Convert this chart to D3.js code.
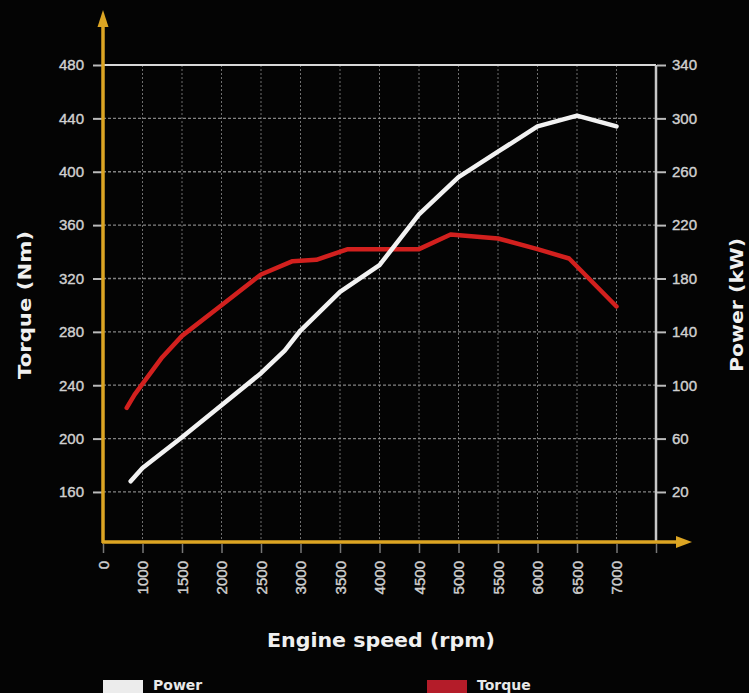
<!DOCTYPE html>
<html><head><meta charset="utf-8">
<script src="https://cdn.jsdelivr.net/npm/d3@7/dist/d3.min.js"></script>
<style>html,body{margin:0;padding:0;background:#040404;overflow:hidden}svg{display:block}</style>
</head><body>
<svg id="c" width="749" height="693"></svg>
<script>
const xTickValues = [500,1000,1500,2000,2500,3000,3500,4000,4500,5000,5500,6000,6500,7000];
const xTickLabels = ["0","1000","1500","2000","2500","3000","3500","4000","4500","5000","5500","6000","6500","7000"];
const torqueTicks = [160,200,240,280,320,360,400,440,480];
const powerTicks = [20,60,100,140,180,220,260,300,340];
const torqueRpm = [800,900,1000,1250,1500,2000,2500,2900,3200,3600,4000,4500,4900,5500,6000,6400,7000];
const torqueNm  = [223,233,241,261,277,300,323,333,334,342,342,342,353,350,342,335,299];
const powerRpm = [850,1000,1500,2000,2500,2800,3000,3500,4000,4500,5000,5500,6000,6500,7000];
const powerKw  = [28,38,61,85,109,126,141,170,190,228,256,275,294,302,294];

const svg = d3.select("#c");
const L = 103, R = 656, T = 65, B = 542;
const x = d3.scaleLinear().domain([500,7500]).range([L,R]);
const yT = d3.scaleLinear().domain([122.5,480]).range([B,T]);
const yP = d3.scaleLinear().domain([-17.5,340]).range([B,T]);
const tickColor = "#d0d0d0";
const font = "'Liberation Sans', Arial, sans-serif";
const tfont = "'DejaVu Sans', 'Liberation Sans', sans-serif";

// grid
const g = svg.append("g");
g.selectAll(".vg").data(xTickValues.slice(1)).join("line")
  .attr("x1",d=>x(d)).attr("x2",d=>x(d)).attr("y1",T).attr("y2",B)
  .attr("stroke","#8a8a8a").attr("stroke-width",1).attr("stroke-dasharray","2,2").attr("opacity",0.8);
g.selectAll(".hg").data(torqueTicks.slice(0,-1)).join("line")
  .attr("x1",L).attr("x2",R).attr("y1",d=>yT(d)).attr("y2",d=>yT(d))
  .attr("stroke","#9a9a9a").attr("stroke-width",1.3).attr("stroke-dasharray","3,2").attr("opacity",0.85);

// frame: top and right
svg.append("line").attr("x1",L).attr("x2",R).attr("y1",yT(480)).attr("y2",yT(480))
  .attr("stroke","#d8d8d8").attr("stroke-width",2);
svg.append("line").attr("x1",R).attr("x2",R).attr("y1",T).attr("y2",B)
  .attr("stroke","#c8c8c8").attr("stroke-width",2.5);

function styleText(sel){
  sel.attr("fill",tickColor).style("font-family",font).style("font-size","15px").style("font-weight","normal")
     .attr("stroke",tickColor).attr("stroke-width",0.4);
}
// left axis ticks & labels
const la = d3.axisLeft(yT).tickValues(torqueTicks).tickSize(9).tickPadding(9).tickFormat(d3.format("d"));
const lg = svg.append("g").attr("transform",`translate(${L-1},0)`).call(la);
lg.select(".domain").remove();
lg.selectAll("line").attr("stroke","#bbb").attr("stroke-width",2);
styleText(lg.selectAll("text"));

// right axis
const ra = d3.axisRight(yP).tickValues(powerTicks).tickSize(9).tickPadding(6).tickFormat(d3.format("d"));
const rg = svg.append("g").attr("transform",`translate(${R+1},0)`).call(ra);
rg.select(".domain").remove();
rg.selectAll("line").attr("stroke","#bbb").attr("stroke-width",2);
styleText(rg.selectAll("text"));

// bottom ticks
const ba = d3.axisBottom(x).tickValues(xTickValues.concat([7500])).tickSize(9).tickFormat(d=>{const i=xTickValues.indexOf(d);return i<0?"":xTickLabels[i];});
const bg = svg.append("g").attr("transform",`translate(0,${B+2})`).call(ba);
bg.select(".domain").remove();
bg.selectAll("line").attr("stroke","#777").attr("stroke-width",1.5);
styleText(bg.selectAll("text"));
bg.selectAll("text").attr("transform","rotate(-90)").attr("text-anchor","end").attr("x",-17).attr("y",0).attr("dy","0.35em");

// yellow axes with arrows
const yel = "#dca523";
svg.append("line").attr("x1",L).attr("x2",L).attr("y1",B+1).attr("y2",22).attr("stroke",yel).attr("stroke-width",3.5);
svg.append("path").attr("d",`M${L},10 L${L-5.5},27 L${L+5.5},27 Z`).attr("fill",yel);
svg.append("line").attr("x1",L-1).attr("x2",682).attr("y1",B).attr("y2",B).attr("stroke",yel).attr("stroke-width",3.5);
svg.append("path").attr("d",`M692,${B} L676,${B-6} L676,${B+6} Z`).attr("fill",yel);

// lines
const lineT = d3.line().x((d,i)=>x(torqueRpm[i])).y(d=>yT(d)).curve(d3.curveLinear);
const lineP = d3.line().x((d,i)=>x(powerRpm[i])).y(d=>yP(d)).curve(d3.curveLinear);
svg.append("path").attr("d",lineT(torqueNm)).attr("fill","none").attr("stroke","#d2201e").attr("stroke-width",4.5).attr("stroke-linejoin","round").attr("stroke-linecap","round");
svg.append("path").attr("d",lineP(powerKw)).attr("fill","none").attr("stroke","#f2f2f2").attr("stroke-width",4.5).attr("stroke-linejoin","round").attr("stroke-linecap","round");

// titles
svg.append("text").attr("transform","translate(31,305) rotate(-90)").attr("text-anchor","middle")
  .attr("textLength",148).attr("lengthAdjust","spacingAndGlyphs")
  .attr("fill","#f0f0f0").style("font-family",tfont).style("font-size","18px").style("font-weight","bold").text("Torque (Nm)");
svg.append("text").attr("transform","translate(743,305) rotate(-90)").attr("text-anchor","middle")
  .attr("textLength",134).attr("lengthAdjust","spacingAndGlyphs")
  .attr("fill","#f0f0f0").style("font-family",tfont).style("font-size","18px").style("font-weight","bold").text("Power (kW)");
svg.append("text").attr("x",381).attr("y",647).attr("text-anchor","middle")
  .attr("textLength",228).attr("lengthAdjust","spacingAndGlyphs")
  .attr("fill","#f0f0f0").style("font-family",tfont).style("font-size","19px").style("font-weight","bold").text("Engine speed (rpm)");

// legend
const legend = [{name:"Power",color:"#ececec",x:103},{name:"Torque",color:"#b41c29",x:427}];
const lgd = svg.append("g");
legend.forEach(d=>{
  lgd.append("rect").attr("x",d.x).attr("y",680).attr("width",40).attr("height",14).attr("fill",d.color);
  lgd.append("text").attr("x",d.x+50).attr("y",690).attr("fill","#e8e8e8").style("font-family",tfont).style("font-size","14px").style("font-weight","bold").text(d.name);
});
</script>
</body></html>
